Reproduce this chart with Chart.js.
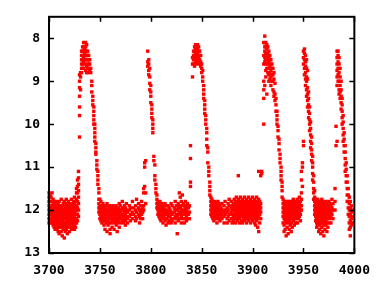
<!DOCTYPE html>
<html>
<head>
<meta charset="utf-8">
<script src="https://cdn.jsdelivr.net/npm/chart.js@4/dist/chart.umd.min.js"></script>
<style>
  html, body { margin: 0; padding: 0; background: #fff; }
  canvas { display: block; }
</style>
</head>
<body>
<canvas id="lc" width="380" height="285"></canvas>
<script>
// axis ticks
const dayTicks = [3700, 3750, 3800, 3850, 3900, 3950, 4000];
const magTicks = [8, 9, 10, 11, 12, 13];

// quiescence + outburst 1
const nights1 = [3700, 3701, 3702, 3703, 3704, 3705, 3706, 3707, 3708, 3709,
  3710, 3711, 3712, 3713, 3714, 3715, 3716, 3717, 3718, 3719,
  3720, 3721, 3722, 3723, 3724, 3725, 3726, 3727, 3728, 3729,
  3730, 3731, 3732, 3733, 3734, 3735, 3736, 3737, 3738, 3739,
  3740, 3741, 3742, 3743, 3744, 3745, 3746, 3747, 3748, 3749];
const mags1 = [
  [11.6, 11.7, 11.8, 11.9, 12.0, 12.1, 12.2, 12.3],
  [11.65, 11.8, 11.9, 11.95, 12.0, 12.1, 12.2, 12.25],
  [11.7, 11.8, 11.9, 12.0, 12.05, 12.1, 12.2, 12.3],
  [11.6, 11.9, 11.95, 12.0, 12.1, 12.15, 12.2, 12.3],
  [11.75, 11.85, 11.95, 12.05, 12.15, 12.25, 12.35],
  [11.8, 11.9, 12.0, 12.05, 12.1, 12.2, 12.3, 12.4],
  [11.85, 11.95, 12.0, 12.05, 12.15, 12.25, 12.35, 12.45],
  [11.8, 11.9, 12.0, 12.1, 12.15, 12.2, 12.3, 12.4],
  [11.9, 11.95, 12.0, 12.1, 12.2, 12.25, 12.3, 12.45],
  [11.85, 11.95, 12.05, 12.15, 12.25, 12.35, 12.5],
  [11.8, 11.9, 12.0, 12.05, 12.1, 12.2, 12.3, 12.4, 12.55],
  [11.9, 11.95, 12.0, 12.1, 12.15, 12.2, 12.3, 12.4],
  [11.75, 11.95, 12.05, 12.15, 12.25, 12.35, 12.5],
  [11.9, 12.0, 12.05, 12.1, 12.2, 12.25, 12.3, 12.4, 12.6],
  [11.85, 12.0, 12.1, 12.15, 12.2, 12.3, 12.35, 12.45],
  [11.8, 11.9, 12.0, 12.1, 12.2, 12.3, 12.4, 12.65],
  [11.9, 11.95, 12.0, 12.05, 12.1, 12.2, 12.3, 12.5],
  [11.75, 11.85, 11.95, 12.05, 12.15, 12.25, 12.35, 12.45],
  [11.9, 12.0, 12.1, 12.15, 12.2, 12.3, 12.4, 12.55],
  [11.8, 11.9, 12.0, 12.05, 12.1, 12.2, 12.25, 12.3],
  [11.85, 11.95, 12.05, 12.15, 12.25, 12.35, 12.5],
  [11.9, 12.0, 12.05, 12.1, 12.2, 12.3, 12.4],
  [11.75, 11.85, 12.0, 12.1, 12.15, 12.2, 12.3, 12.45],
  [11.9, 11.95, 12.0, 12.1, 12.2, 12.25, 12.3, 12.4],
  [11.8, 11.9, 12.0, 12.05, 12.1, 12.2, 12.3, 12.35],
  [11.7, 11.85, 11.95, 12.05, 12.15, 12.25, 12.35, 12.45],
  [11.8, 11.9, 12.0, 12.1, 12.2, 12.3, 12.4],
  [11.5, 11.6, 11.75, 11.9, 12.0, 12.1, 12.2, 12.3],
  [11.3, 11.45, 11.6, 11.8, 11.95, 12.1, 12.25],
  [11.1, 11.25, 11.4, 11.55, 11.7, 11.85, 12.0, 12.15],
  [8.85, 9.0, 9.15, 9.35, 9.6, 9.8, 10.3],
  [8.8, 8.9, 9.2],
  [8.3, 8.4, 8.5, 8.6, 8.7, 8.8],
  [8.2, 8.3, 8.4, 8.5, 8.6, 8.7],
  [8.1, 8.2, 8.3, 8.45, 8.55, 8.7],
  [8.1, 8.25, 8.35, 8.5, 8.6],
  [8.1, 8.2, 8.3, 8.4, 8.75],
  [8.15, 8.3, 8.4, 8.5, 8.65, 8.8],
  [8.3, 8.4, 8.5, 8.6, 8.7, 8.8],
  [8.4, 8.5, 8.6, 8.7],
  [8.5, 8.6, 8.75],
  [8.7, 8.8],
  [9.0, 9.1, 9.25],
  [9.35, 9.45, 9.55],
  [9.6, 9.7, 9.8, 9.9, 10.0],
  [10.0, 10.1, 10.2, 10.3, 10.4],
  [10.45, 10.55, 10.65, 10.7],
  [10.85, 10.95, 11.05],
  [11.1, 11.2, 11.3, 11.4],
  [11.5, 11.6, 11.75, 11.85, 11.95, 12.05]
];

// quiescence + outburst 2
const nights2 = [3750, 3751, 3752, 3753, 3754, 3755, 3756, 3757, 3758, 3759,
  3760, 3761, 3762, 3763, 3764, 3765, 3766, 3767, 3768, 3769,
  3770, 3771, 3772, 3773, 3774, 3775, 3776, 3777, 3779, 3780,
  3782, 3783, 3785, 3786, 3788, 3789, 3790, 3791, 3792, 3793,
  3794, 3795, 3797, 3798, 3799, 3800, 3801, 3802, 3803, 3804,
  3805, 3806, 3807, 3808, 3809, 3810, 3811, 3812, 3813, 3814,
  3815, 3816, 3817, 3818, 3819, 3820, 3821, 3823, 3824, 3825,
  3826, 3827, 3828, 3829, 3830, 3831, 3832, 3833, 3834, 3835,
  3836, 3837, 3838];
const mags2 = [
  [11.75, 11.9, 12.0, 12.1, 12.2],
  [11.8, 11.95, 12.05, 12.15, 12.25],
  [11.9, 12.0, 12.1, 12.2, 12.3],
  [11.85, 11.95, 12.05, 12.15, 12.25],
  [11.9, 12.0, 12.1, 12.2, 12.35],
  [11.95, 12.05, 12.15, 12.25, 12.45],
  [11.9, 12.0, 12.1, 12.2, 12.3],
  [11.85, 12.0, 12.1, 12.2, 12.5],
  [11.9, 12.05, 12.15, 12.25, 12.35],
  [11.95, 12.05, 12.15, 12.3],
  [11.9, 12.0, 12.1, 12.2, 12.45, 12.55],
  [12.0, 12.1, 12.2, 12.3],
  [11.95, 12.05, 12.15, 12.25, 12.4],
  [11.9, 12.0, 12.1, 12.2],
  [12.0, 12.1, 12.2, 12.3, 12.45],
  [11.95, 12.05, 12.15, 12.25],
  [11.9, 12.0, 12.1, 12.2, 12.35],
  [12.0, 12.1, 12.2, 12.3, 12.5],
  [11.95, 12.05, 12.15, 12.25],
  [11.85, 12.0, 12.1, 12.2, 12.4],
  [11.9, 12.05, 12.15, 12.3],
  [12.0, 12.1, 12.2],
  [11.8, 11.95, 12.1, 12.25],
  [12.0, 12.15, 12.3],
  [11.9, 12.05, 12.2],
  [11.95, 12.1, 12.25, 12.35],
  [11.85, 12.0, 12.15],
  [12.05, 12.2, 12.3],
  [11.9, 12.0, 12.15],
  [11.95, 12.1, 12.25],
  [11.8, 12.05, 12.2],
  [11.95, 12.1],
  [11.9, 12.0, 12.15, 12.25],
  [11.75, 12.05, 12.2],
  [11.85, 11.95, 12.1],
  [12.0, 12.15, 12.3],
  [11.9, 12.05, 12.2],
  [11.8, 12.0, 12.1],
  [11.95, 12.05, 12.2],
  [11.5, 11.6, 11.9, 12.0],
  [10.9, 11.0, 11.45],
  [10.85, 11.6, 11.85],
  [8.3, 8.55, 8.65],
  [8.5, 8.6, 8.75, 8.85],
  [8.7, 8.9, 9.05, 9.2],
  [9.1, 9.25, 9.35, 9.5],
  [9.55, 9.65, 9.75, 9.85],
  [9.9, 10.0, 10.1, 10.2],
  [10.75, 10.85],
  [10.95, 11.2, 11.3],
  [11.4, 11.5, 11.6],
  [11.65, 11.75, 11.85, 11.95],
  [11.8, 11.9, 12.0, 12.1],
  [11.85, 11.95, 12.05, 12.15],
  [11.8, 11.9, 12.0, 12.1, 12.2],
  [11.9, 12.0, 12.1, 12.25],
  [11.85, 11.95, 12.05, 12.15],
  [11.9, 12.0, 12.1, 12.2, 12.3],
  [11.95, 12.05, 12.15],
  [11.85, 12.0, 12.1, 12.25],
  [11.9, 12.05, 12.2, 12.35],
  [12.0, 12.1, 12.2],
  [11.9, 12.05, 12.15, 12.3],
  [11.95, 12.1, 12.25],
  [12.0, 12.15],
  [11.85, 12.05, 12.2, 12.3],
  [11.9, 12.1, 12.25],
  [11.95, 12.05, 12.2],
  [11.8, 12.0, 12.15, 12.3],
  [11.9, 12.1, 12.2],
  [12.0, 12.15, 12.55],
  [11.85, 11.95, 12.1, 12.25],
  [11.6, 11.9, 12.05, 12.2],
  [11.7, 11.95, 12.1],
  [11.8, 12.0, 12.15, 12.3],
  [11.65, 11.9, 12.05, 12.2],
  [11.85, 12.0, 12.1],
  [11.9, 12.05, 12.2, 12.3],
  [11.8, 11.95, 12.1],
  [11.9, 12.0, 12.15, 12.25],
  [11.85, 12.05, 12.2],
  [11.95, 12.1],
  [11.9, 12.05, 12.2]
];

// outburst 3 + quiescence
const nights3 = [3839, 3841, 3842, 3843, 3844, 3845, 3846, 3847, 3848, 3849,
  3850, 3851, 3852, 3853, 3854, 3855, 3856, 3857, 3858, 3859,
  3860, 3861, 3862, 3863, 3864, 3865, 3866, 3867, 3868, 3869,
  3870, 3872, 3873, 3875, 3876, 3877, 3879, 3880, 3881, 3882,
  3883, 3884, 3885, 3886, 3887, 3888, 3889, 3890, 3891, 3892,
  3893, 3894, 3895, 3896, 3897, 3898, 3899, 3900, 3901, 3902,
  3903, 3904, 3905, 3906, 3907, 3908, 3909];
const mags3 = [
  [10.5, 10.8, 11.35, 11.45],
  [8.9, 8.6, 8.45],
  [8.3, 8.4, 8.5, 8.6],
  [8.2, 8.3, 8.4, 8.5, 8.65],
  [8.15, 8.25, 8.35, 8.45, 8.55],
  [8.2, 8.3, 8.4, 8.5, 8.6],
  [8.15, 8.25, 8.35, 8.5],
  [8.2, 8.3, 8.45, 8.55],
  [8.3, 8.4, 8.5, 8.6],
  [8.4, 8.55, 8.65],
  [8.6, 8.7, 8.8],
  [8.75, 8.9, 9.0],
  [9.1, 9.2, 9.3, 9.4],
  [9.45, 9.55, 9.65, 9.75],
  [9.8, 9.9, 10.0],
  [10.1, 10.2, 10.35, 10.5],
  [10.55, 10.65, 10.9],
  [11.0, 11.1, 11.2],
  [11.35, 11.45, 11.55, 11.65],
  [11.7, 11.8, 11.9, 12.0, 12.1],
  [11.75, 11.85, 11.95, 12.05, 12.15],
  [11.8, 11.9, 12.0, 12.1, 12.2],
  [11.85, 11.95, 12.05, 12.15, 12.25],
  [11.8, 11.9, 12.0, 12.1, 12.2],
  [11.85, 11.95, 12.05, 12.15],
  [11.9, 12.0, 12.1, 12.2, 12.3],
  [11.8, 11.95, 12.05, 12.15],
  [11.85, 12.0, 12.1, 12.2],
  [11.9, 12.0, 12.1, 12.25],
  [11.95, 12.05, 12.15],
  [11.85, 12.0, 12.1, 12.2],
  [11.9, 12.05, 12.15, 12.3],
  [11.8, 12.0, 12.1],
  [11.95, 12.05, 12.2, 12.3],
  [11.85, 12.0, 12.15],
  [11.75, 11.9, 12.1, 12.25],
  [11.8, 11.95, 12.05, 12.2],
  [11.9, 12.0, 12.1, 12.3],
  [11.85, 11.95, 12.15, 12.25],
  [11.75, 11.9, 12.0, 12.1, 12.2],
  [11.8, 11.95, 12.05, 12.15, 12.3],
  [11.7, 11.85, 11.95, 12.05, 12.2],
  [11.8, 11.9, 12.0, 12.1, 12.25],
  [11.2, 11.75, 11.85, 11.95, 12.05, 12.15],
  [11.8, 11.9, 12.0, 12.1, 12.2, 12.3],
  [11.7, 11.85, 11.95, 12.05, 12.15],
  [11.8, 11.9, 12.0, 12.1, 12.25],
  [11.75, 11.85, 11.95, 12.05, 12.15, 12.3],
  [11.8, 11.9, 12.0, 12.1, 12.2],
  [11.7, 11.85, 11.95, 12.05, 12.15, 12.25],
  [11.8, 11.9, 12.0, 12.1, 12.2],
  [11.75, 11.85, 11.95, 12.05, 12.15, 12.3],
  [11.8, 11.9, 12.0, 12.1, 12.2],
  [11.7, 11.85, 11.95, 12.05, 12.15, 12.25],
  [11.8, 11.9, 12.0, 12.1, 12.2],
  [11.75, 11.85, 11.95, 12.05, 12.15, 12.3],
  [11.8, 11.9, 12.0, 12.1, 12.2],
  [11.7, 11.85, 11.95, 12.05, 12.15, 12.25],
  [11.8, 11.9, 12.0, 12.1, 12.2],
  [11.75, 11.85, 11.95, 12.05, 12.15, 12.3],
  [11.8, 11.9, 12.0, 12.1, 12.2, 12.35],
  [11.7, 11.85, 11.95, 12.05, 12.15, 12.25],
  [11.8, 11.9, 12.0, 12.1, 12.2, 12.4],
  [11.1, 11.75, 11.85, 11.95, 12.05, 12.15, 12.5],
  [11.8, 11.9, 12.0, 12.1, 12.3],
  [11.2, 11.85, 11.95, 12.05, 12.2],
  [11.1, 11.15]
];

// outburst 4 + quiescence
const nights4 = [3911, 3912, 3913, 3914, 3915, 3916, 3917, 3918, 3919, 3920,
  3921, 3922, 3923, 3924, 3925, 3926, 3927, 3928, 3929, 3930,
  3931, 3932, 3933, 3934, 3935, 3936, 3937, 3938, 3939, 3940,
  3941, 3942, 3943, 3944, 3945, 3946, 3947, 3948, 3949];
const mags4 = [
  [10.0, 9.4, 9.2, 9.0, 8.6, 8.4, 8.1],
  [7.95, 8.1, 8.2, 8.3, 8.45, 8.55, 9.1],
  [8.1, 8.2, 8.35, 8.5, 8.6, 8.75, 8.9],
  [8.15, 8.25, 8.4, 8.5, 8.7, 9.3],
  [8.2, 8.35, 8.45, 8.6, 8.8],
  [8.3, 8.45, 8.55, 8.7, 8.85, 9.0],
  [8.4, 8.5, 8.65, 8.8, 8.95],
  [8.5, 8.6, 8.75, 8.9, 9.1],
  [8.6, 8.7, 8.85, 9.0],
  [8.7, 8.85, 9.0, 9.2],
  [8.8, 8.95, 9.25, 9.35],
  [9.05, 9.3, 9.45],
  [9.4, 9.55, 9.7],
  [9.7, 9.8, 9.9, 10.0],
  [10.05, 10.15, 10.3],
  [10.35, 10.45, 10.6],
  [10.7, 10.8, 10.9],
  [11.0, 11.1, 11.2, 11.3],
  [11.35, 11.45, 11.55, 11.7],
  [11.75, 11.85, 11.95, 12.05, 12.15, 12.3],
  [11.8, 11.9, 12.0, 12.1, 12.2, 12.35, 12.5],
  [11.85, 11.95, 12.05, 12.15, 12.25, 12.45],
  [11.8, 11.9, 12.0, 12.1, 12.2, 12.3, 12.6],
  [11.85, 11.95, 12.05, 12.15, 12.25, 12.4],
  [11.8, 11.9, 12.0, 12.1, 12.2, 12.3, 12.55],
  [11.85, 11.95, 12.05, 12.15, 12.25, 12.45],
  [11.8, 11.9, 12.0, 12.1, 12.2, 12.35],
  [11.85, 11.95, 12.05, 12.15, 12.3, 12.5],
  [11.8, 11.9, 12.0, 12.1, 12.2, 12.4],
  [11.75, 11.85, 11.95, 12.05, 12.15, 12.25],
  [11.8, 11.9, 12.0, 12.1, 12.2, 12.35],
  [11.85, 11.95, 12.05, 12.15, 12.3],
  [11.8, 11.9, 12.0, 12.1, 12.2],
  [11.75, 11.85, 11.95, 12.05, 12.15, 12.3],
  [11.8, 11.9, 12.0, 12.1, 12.2],
  [11.7, 11.85, 11.95, 12.05, 12.15],
  [11.8, 11.9, 12.0, 12.1, 12.25],
  [11.1, 11.3, 11.6, 11.75, 11.9, 12.0],
  [10.9, 11.0, 11.45]
];

// outbursts 5 and 6
const nights5 = [3950, 3951, 3952, 3953, 3954, 3955, 3956, 3957, 3958, 3959,
  3960, 3961, 3962, 3963, 3964, 3965, 3966, 3967, 3968, 3969,
  3970, 3971, 3972, 3973, 3974, 3975, 3976, 3977, 3978, 3979,
  3981, 3982, 3983, 3984, 3985, 3986, 3987, 3988, 3989, 3990,
  3991, 3992, 3993, 3994, 3995, 3996, 3997, 3998];
const mags5 = [
  [10.5, 10.4, 8.3, 8.45, 8.6],
  [8.25, 8.35, 8.5, 8.7, 8.85],
  [8.4, 8.55, 8.65, 8.8, 8.95, 9.1],
  [8.5, 8.7, 8.9, 9.0, 9.2, 9.35],
  [8.75, 8.95, 9.15, 9.3, 9.45, 9.6],
  [9.25, 9.4, 9.55, 9.7, 9.85],
  [9.6, 9.75, 9.9, 10.0, 10.15],
  [9.95, 10.1, 10.25, 10.4, 10.55],
  [10.3, 10.45, 10.6, 10.7, 10.85],
  [10.75, 10.9, 11.0, 11.15, 11.3],
  [11.2, 11.35, 11.5, 11.6, 11.75],
  [11.55, 11.7, 11.8, 11.9, 12.0, 12.1],
  [11.75, 11.85, 11.95, 12.05, 12.15, 12.25],
  [11.8, 11.9, 12.0, 12.1, 12.2, 12.3, 12.4],
  [11.75, 11.85, 11.95, 12.05, 12.15, 12.25, 12.35],
  [11.8, 11.9, 12.0, 12.1, 12.2, 12.3, 12.5],
  [11.85, 11.95, 12.05, 12.15, 12.25, 12.35, 12.45],
  [11.8, 11.9, 12.0, 12.1, 12.2, 12.3, 12.55],
  [11.75, 11.85, 11.95, 12.05, 12.15, 12.25, 12.4],
  [11.8, 11.9, 12.0, 12.1, 12.2, 12.3, 12.5],
  [11.85, 11.95, 12.05, 12.15, 12.25, 12.35, 12.6],
  [11.9, 12.0, 12.1, 12.2, 12.3, 12.45],
  [11.8, 11.95, 12.05, 12.15, 12.25, 12.35],
  [11.85, 12.0, 12.1, 12.2, 12.3, 12.5],
  [11.9, 12.0, 12.1, 12.2, 12.4],
  [11.8, 11.95, 12.05, 12.15, 12.3],
  [11.85, 12.0, 12.1, 12.2],
  [11.9, 12.05, 12.15, 12.3],
  [11.75, 11.95, 12.1],
  [11.85, 12.0, 12.2],
  [11.5, 11.8, 12.0],
  [10.5, 10.05],
  [8.3, 8.45, 8.6, 8.75, 8.9, 9.1, 10.4],
  [8.3, 8.4, 8.55, 8.7, 8.85, 9.0],
  [8.45, 8.6, 8.8, 9.0, 9.2, 9.3],
  [8.7, 8.9, 9.1, 9.25, 9.4],
  [9.0, 9.2, 9.35, 9.5, 9.65],
  [9.4, 9.55, 9.7, 9.85, 10.0],
  [9.8, 9.95, 10.1, 10.25, 10.4],
  [10.2, 10.35, 10.5, 10.65],
  [10.5, 10.65, 10.8, 10.95, 11.1],
  [10.9, 11.05, 11.2, 11.35],
  [11.2, 11.35, 11.5, 11.65, 11.8],
  [11.5, 11.65, 11.8, 11.95, 12.1],
  [11.7, 11.85, 12.0, 12.15, 12.3, 12.45],
  [11.8, 11.95, 12.1, 12.25, 12.4, 12.6],
  [11.9, 12.05, 12.2, 12.35],
  [12.0, 12.15, 12.3]
];

const segments = [[nights1, mags1], [nights2, mags2], [nights3, mags3], [nights4, mags4], [nights5, mags5]];
const points = [];
segments.forEach(([nights, mags]) => {
    nights.forEach((d, i) => mags[i].forEach(m => points.push({ x: d, y: m })));
});

const tickFont = { family: '"DejaVu Sans Mono", monospace', size: 13, weight: 'bold' };

// gnuplot style box with inward ticks
const framePlugin = {
    id: 'frame',
    afterDatasetsDraw(chart) {
        const { ctx, chartArea: a, scales } = chart;
        ctx.save();
        ctx.strokeStyle = '#000';
        ctx.lineWidth = 2;
        ctx.strokeRect(a.left, a.top, a.right - a.left, a.bottom - a.top);
        ctx.lineWidth = 1.5;
        ctx.beginPath();
        dayTicks.forEach(v => {
            const x = Math.round(scales.x.getPixelForValue(v)) + 0.5;
            ctx.moveTo(x, a.bottom); ctx.lineTo(x, a.bottom - 5);
            ctx.moveTo(x, a.top); ctx.lineTo(x, a.top + 5);
        });
        magTicks.forEach(v => {
            const y = Math.round(scales.y.getPixelForValue(v)) + 0.5;
            ctx.moveTo(a.left, y); ctx.lineTo(a.left + 5, y);
            ctx.moveTo(a.right, y); ctx.lineTo(a.right - 5, y);
        });
        ctx.stroke();
        ctx.restore();
    }
};

new Chart(document.getElementById('lc'), {
    type: 'scatter',
    data: {
        datasets: [{
            data: points,
            backgroundColor: '#ff0000',
            borderWidth: 0,
            pointStyle: 'rect',
            pointRadius: 2.4,
            clip: false
        }]
    },
    options: {
        responsive: false,
        animation: false,
        layout: { padding: { left: 0, right: 24, top: 16, bottom: 0 } },
        plugins: { legend: { display: false }, tooltip: { enabled: false } },
        scales: {
            x: {
                type: 'linear',
                min: 3700,
                max: 4000,
                grid: { display: false, drawTicks: false },
                border: { display: false },
                afterBuildTicks: s => { s.ticks = dayTicks.map(v => ({ value: v })); },
                afterFit: s => { s.height = 32; },
                ticks: { color: '#000', font: tickFont, padding: 10, maxRotation: 0, callback: v => String(v) }
            },
            y: {
                type: 'linear',
                reverse: true,
                min: 7.5,
                max: 13,
                grid: { display: false, drawTicks: false },
                border: { display: false },
                afterBuildTicks: s => { s.ticks = magTicks.map(v => ({ value: v })); },
                afterFit: s => { s.width = 49; },
                ticks: { color: '#000', font: tickFont, padding: 9, callback: v => String(v) }
            }
        }
    },
    plugins: [framePlugin]
});
</script>
</body>
</html>
